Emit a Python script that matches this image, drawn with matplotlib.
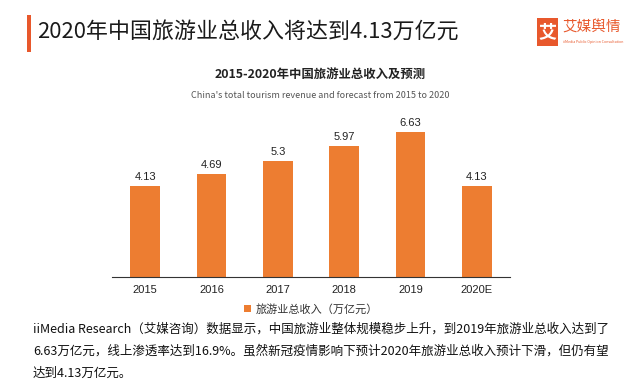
import matplotlib
matplotlib.use("Agg")
import matplotlib.pyplot as plt
from matplotlib.patches import Rectangle

plt.rcParams['font.family'] = ['Noto Sans CJK SC', 'DejaVu Sans']

years = ["2015", "2016", "2017", "2018", "2019", "2020E"]
revenue = [4.13, 4.69, 5.3, 5.97, 6.63, 4.13]
value_labels = ["4.13", "4.69", "5.3", "5.97", "6.63", "4.13"]

orange = "#ED7D31"
red = "#E8582C"
num_font = ['Liberation Sans', 'Noto Sans CJK SC']

fig = plt.figure(figsize=(6.41, 3.92), dpi=100)
W, H = 641, 392

def fx(x): return x / W
def fy(y): return 1 - y / H

# header
fig.patches.append(Rectangle((fx(27), fy(52)), fx(4), 37 / H, transform=fig.transFigure,
                             color=red, lw=0))
fig.text(fx(37), fy(33), "2020年中国旅游业总收入将达到4.13万亿元", fontsize=15.8,
         color="#1a1a1a", va="center", ha="left", fontweight="medium")

# logo
fig.patches.append(Rectangle((fx(537), fy(46)), fx(21), 28 / H, transform=fig.transFigure,
                             color=red, lw=0))
fig.text(fx(547.5), fy(32), "艾", fontsize=13, color="white", ha="center", va="center",
         fontweight="bold")
fig.text(fx(562), fy(28), "艾媒舆情", fontsize=10.5, color=red, ha="left", va="center")
fig.text(fx(563), fy(42), "iiMedia Public Opinion Consultation", fontsize=2.6, color=red,
         ha="left", va="center")

# chart titles
fig.text(fx(320), fy(75), "2015-2020年中国旅游业总收入及预测", fontsize=8.9,
         fontweight="bold", color="#222222", ha="center", va="center")
fig.text(fx(320), fy(95), "China's total tourism revenue and forecast from 2015 to 2020",
         fontsize=6.5, color="#555555", ha="center", va="center")

ax = fig.add_axes([fx(112), fy(276.7), fx(510) - fx(112), 164 / H])
x = range(len(years))
bars = ax.bar(x, revenue, width=0.45, color=orange, label="旅游业总收入（万亿元）")
for xi, v, lab in zip(x, revenue, value_labels):
    ax.text(xi, v + 0.18, lab, ha="center", va="bottom", fontsize=8, family=num_font,
            color="#222222")
ax.set_xlim(-0.5, len(years) - 0.5)
ax.set_ylim(0, 7.5)
ax.set_xticks(list(x))
ax.set_xticklabels(years, fontsize=8, family=num_font, color="#222222")
ax.tick_params(axis="x", length=0, pad=6)
ax.set_yticks([])
for s in ["top", "right", "left"]:
    ax.spines[s].set_visible(False)
ax.spines["bottom"].set_color("#333333")
ax.spines["bottom"].set_linewidth(0.8)

leg = ax.legend(loc="upper center", bbox_to_anchor=(0.5, -0.105), frameon=False, fontsize=8,
                handlelength=0.6, handleheight=0.6, handletextpad=0.4)
for t in leg.get_texts():
    t.set_color("#333333")

# paragraph
para = ["iiMedia Research（艾媒咨询）数据显示，中国旅游业整体规模稳步上升，到2019年旅游业总收入达到了",
        "6.63万亿元，线上渗透率达到16.9%。虽然新冠疫情影响下预计2020年旅游业总收入预计下滑，但仍有望",
        "达到4.13万亿元。"]
for i, line in enumerate(para):
    fig.text(fx(33), fy(329.5 + i * 22), line, fontsize=9, color="#111111", ha="left", va="center")

fig.savefig("out.png", dpi=100)
